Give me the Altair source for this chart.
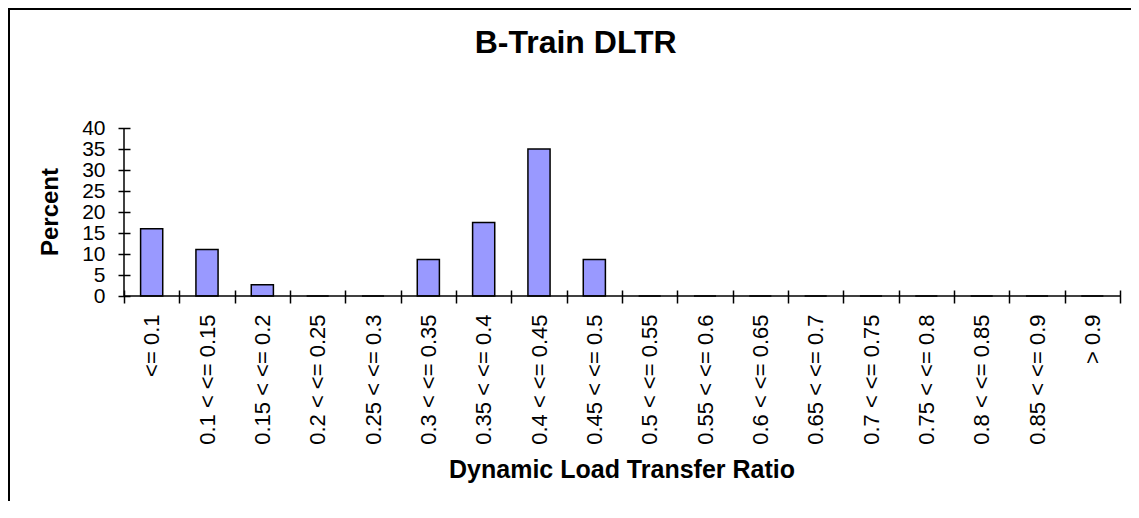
import altair as alt
import pandas as pd

# ---- data ----
categories = [
    "<= 0.1", "0.1 < <= 0.15", "0.15 < <= 0.2", "0.2 < <= 0.25", "0.25 < <= 0.3",
    "0.3 < <= 0.35", "0.35 < <= 0.4", "0.4 < <= 0.45", "0.45 < <= 0.5",
    "0.5 < <= 0.55", "0.55 < <= 0.6", "0.6 < <= 0.65", "0.65 < <= 0.7",
    "0.7 < <= 0.75", "0.75 < <= 0.8", "0.8 < <= 0.85", "0.85 < <= 0.9", "> 0.9",
]
percent = [16.0, 11.1, 2.7, 0, 0, 8.7, 17.5, 35.0, 8.7, 0, 0, 0, 0, 0, 0, 0, 0, 0]
y_ticks = [0, 5, 10, 15, 20, 25, 30, 35, 40]

chart_title = "B-Train DLTR"
x_title = "Dynamic Load Transfer Ratio"
y_title = "Percent"

FONT = "Liberation Sans"
W, H = 996, 168

df = pd.DataFrame({"cat": categories, "pct": percent})
one = pd.DataFrame({"a": [0]})

bars = alt.Chart(df).mark_bar(
    width=alt.RelativeBandSize(0.4), fill="#9999FF", stroke="black", strokeWidth=1.5
).encode(
    x=alt.X("cat:N", sort=categories,
            scale=alt.Scale(paddingInner=0, paddingOuter=0),
            axis=alt.Axis(title=None, labelAngle=-90, tickBand="extent", tickSize=13,
                          offset=-6, domain=False, labelFont=FONT, labelFontSize=22,
                          labelColor="black", labelPadding=11, tickColor="black",
                          tickWidth=1.5, labelOverlap=False, grid=False)),
    y=alt.Y("pct:Q", scale=alt.Scale(domain=[0, 40], nice=False, zero=True),
            axis=alt.Axis(title=None, values=y_ticks, tickSize=12, offset=-6,
                          domain=False, labelFont=FONT, labelFontSize=21,
                          labelColor="black", labelPadding=13, tickColor="black",
                          tickWidth=1.5, labelOverlap=False, grid=False)),
)

# axis lines (ticks cross them, as in the reference)
x_domain = alt.Chart(one).mark_rule(color="black", strokeWidth=1.5).encode(
    y=alt.value(H), x=alt.value(0), x2=alt.value(W)
)
y_domain = alt.Chart(one).mark_rule(color="black", strokeWidth=1.5).encode(
    x=alt.value(0), y=alt.value(0), y2=alt.value(H)
)

# chart frame (only left and top edges are visible in the reference)
frame_left = alt.Chart(one).mark_rule(color="black", strokeWidth=2).encode(
    x=alt.value(-115), y=alt.value(-119), y2=alt.value(400)
)
frame_top = alt.Chart(one).mark_rule(color="black", strokeWidth=2).encode(
    x=alt.value(-116), x2=alt.value(1030), y=alt.value(-119)
)

title = alt.Chart(one).mark_text(
    font=FONT, fontSize=32, fontWeight="bold", align="center", baseline="alphabetic", color="black"
).encode(x=alt.value(451.7), y=alt.value(-75), text=alt.value(chart_title))

xt = alt.Chart(one).mark_text(
    font=FONT, fontSize=25, fontWeight="bold", align="center", baseline="alphabetic", color="black"
).encode(x=alt.value(W / 2), y=alt.value(350), text=alt.value(x_title))

yt = alt.Chart(one).mark_text(
    font=FONT, fontSize=24, fontWeight="bold", align="center", baseline="alphabetic",
    angle=270, color="black"
).encode(x=alt.value(-65.7), y=alt.value(H / 2), text=alt.value(y_title))

chart = alt.layer(bars, x_domain, y_domain, frame_left, frame_top, title, xt, yt).properties(
    width=W, height=H,
    autosize=alt.AutoSizeParams(type="none"),
    padding={"left": 116, "top": 120, "right": 11, "bottom": 205},
    background="white",
).configure_view(stroke="transparent")

chart.save("out.html", embed_options={"renderer": "svg", "actions": False})
